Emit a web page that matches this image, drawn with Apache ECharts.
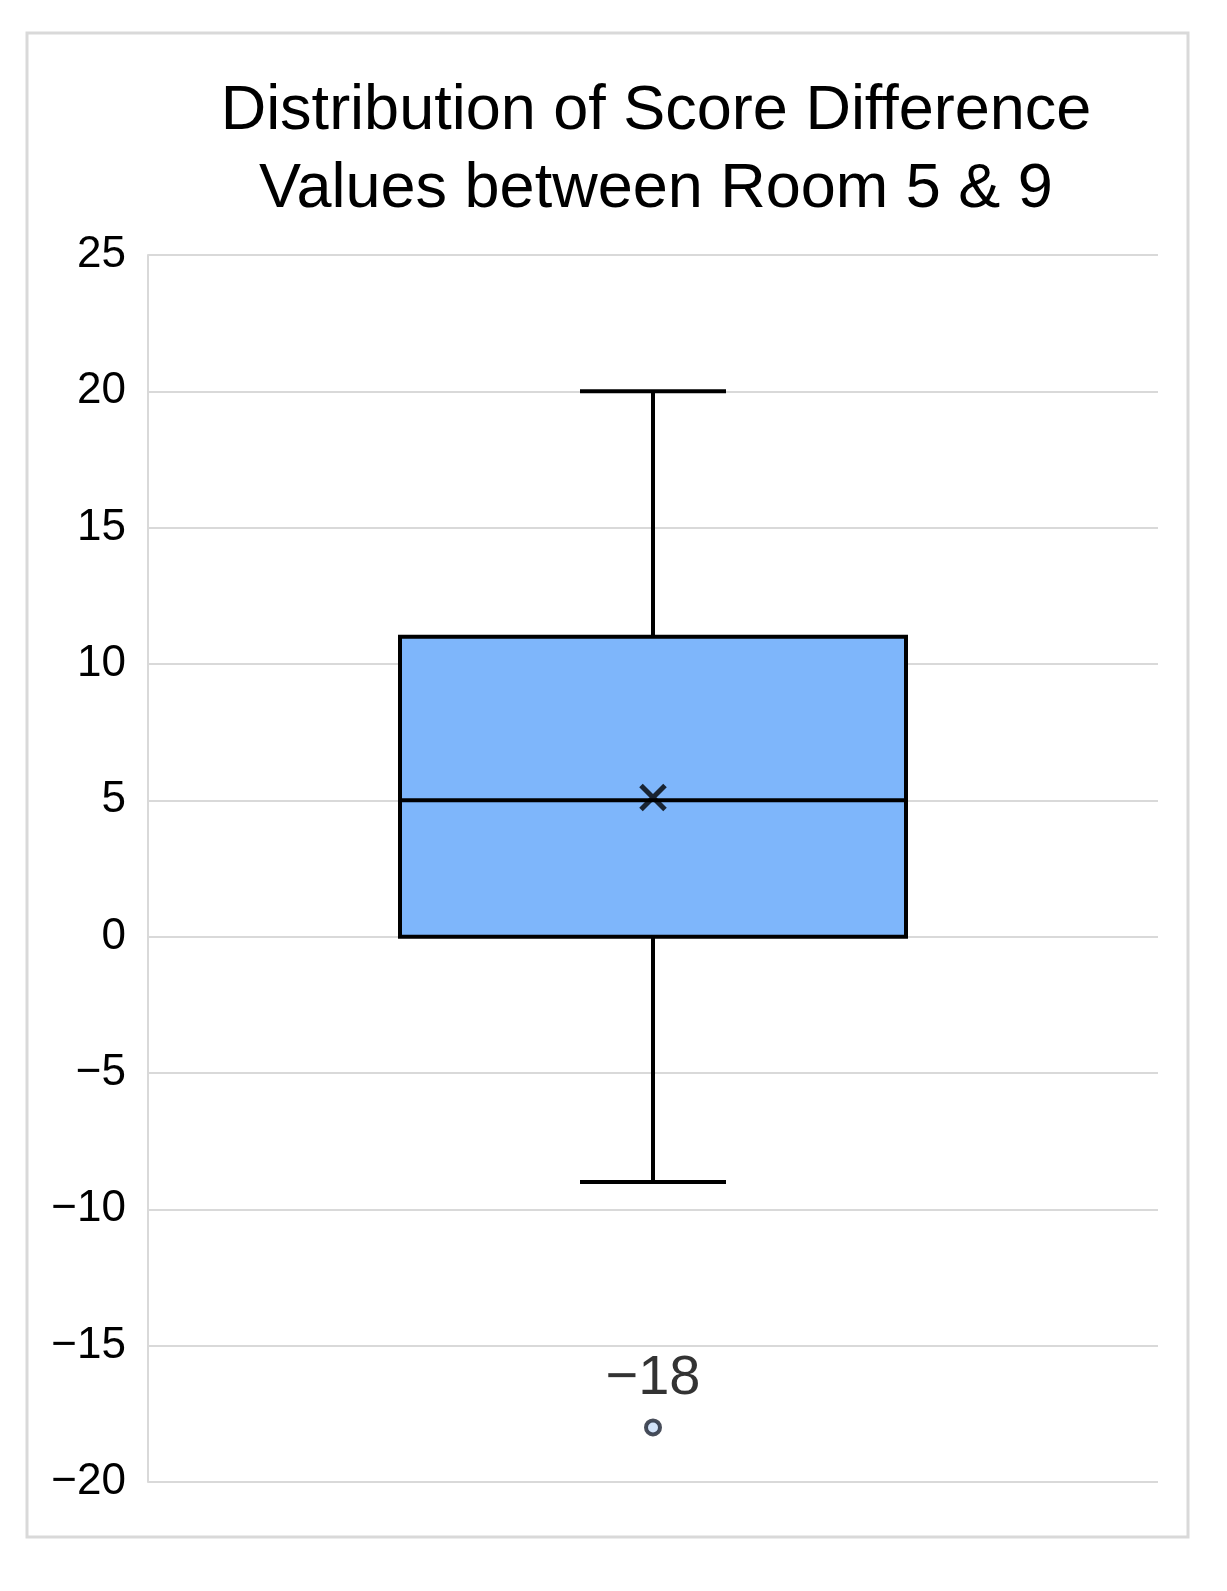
<!DOCTYPE html>
<html>
<head>
<meta charset="utf-8">
<script src="https://cdn.jsdelivr.net/npm/echarts@6/dist/echarts.min.js"></script>
<style>
html,body{margin:0;padding:0;background:#fff;}
#chart{width:1227px;height:1591px;}
</style>
</head>
<body>
<div id="chart"></div>
<script>
// data
var categories = ['Room 5 & 9'];
var boxValues = [[-9, 0, 5, 11, 20]]; // min, Q1, median, Q3, max
var meanValues = [5.1];
var outlierValues = [-18];
var yTicks = { min: -20, max: 25, step: 5 };

var myChart = echarts.init(document.getElementById('chart'));

function fmtNum(v) {
	return v < 0 ? '\u2212' + Math.abs(v) : String(v);
}

// box + whiskers with short caps
function renderBox(params, api) {
	var x = api.value(0);
	var lo = api.coord([x, api.value(1)]);
	var q1 = api.coord([x, api.value(2)]);
	var md = api.coord([x, api.value(3)]);
	var q3 = api.coord([x, api.value(4)]);
	var hi = api.coord([x, api.value(5)]);
	var half = 253, cap = 73;
	var cx = lo[0];
	var ls = { stroke: '#000', lineWidth: 4 };
	return {
		type: 'group',
		children: [
			{ type: 'line', shape: { x1: cx, y1: hi[1], x2: cx, y2: q3[1] }, style: ls },
			{ type: 'line', shape: { x1: cx, y1: q1[1], x2: cx, y2: lo[1] }, style: ls },
			{ type: 'line', shape: { x1: cx - cap, y1: hi[1], x2: cx + cap, y2: hi[1] }, style: ls },
			{ type: 'line', shape: { x1: cx - cap, y1: lo[1], x2: cx + cap, y2: lo[1] }, style: ls },
			{ type: 'rect', shape: { x: cx - half, y: q3[1], width: half * 2, height: q1[1] - q3[1] },
				style: { fill: '#7eb6fb', stroke: '#000', lineWidth: 4 } },
			{ type: 'line', shape: { x1: cx - half, y1: md[1], x2: cx + half, y2: md[1] }, style: ls }
		]
	};
}

var option = {
	backgroundColor: '#fff',
	animation: false,
	title: {
		text: 'Distribution of Score Difference\nValues between Room 5 & 9',
		left: 651,
		textAlign: 'center',
		top: 68,
		textStyle: {
			fontFamily: 'Liberation Sans, Arial',
			fontSize: 63,
			fontWeight: 'normal',
			color: '#000',
			lineHeight: 78
		}
	},
	graphic: [{
		type: 'rect',
		shape: { x: 27, y: 33, width: 1161, height: 1504 },
		style: { fill: 'none', stroke: '#d9d9d9', lineWidth: 3 },
		silent: true
	}],
	grid: { left: 148, right: 69, top: 255, bottom: 109 },
	xAxis: {
		type: 'category',
		data: categories,
		axisLine: { show: false },
		axisTick: { show: false },
		axisLabel: { show: false }
	},
	yAxis: {
		type: 'value',
		min: yTicks.min,
		max: yTicks.max,
		interval: yTicks.step,
		axisLine: { show: true, lineStyle: { color: '#d9d9d9', width: 2 } },
		axisTick: { show: false },
		splitLine: { lineStyle: { color: '#d9d9d9', width: 2 } },
		axisLabel: {
			formatter: fmtNum,
			fontFamily: 'Liberation Sans, Arial',
			fontSize: 44,
			color: '#000',
			margin: 22
		}
	},
	series: [{
		type: 'custom',
		renderItem: renderBox,
		data: boxValues.map(function (b, i) { return [i].concat(b); }),
		encode: { x: 0, y: [1, 2, 3, 4, 5] },
		z: 2
	}, {
		type: 'scatter',
		data: meanValues,
		symbol: 'path://M0,0L10,10M10,0L0,10',
		symbolSize: 24,
		itemStyle: { color: 'none', borderColor: '#000', borderWidth: 5 },
		z: 5
	}, {
		type: 'scatter',
		data: outlierValues,
		symbol: 'circle',
		symbolSize: 14,
		itemStyle: { color: '#c8dcf8', borderColor: '#1a2030', borderWidth: 4 },
		label: {
			show: true,
			position: 'top',
			distance: 12,
			formatter: function (p) { return fmtNum(p.value); },
			fontFamily: 'Liberation Sans, Arial',
			fontSize: 56,
			color: '#000'
		},
		z: 5
	}]
};
myChart.setOption(option);
</script>
</body>
</html>
